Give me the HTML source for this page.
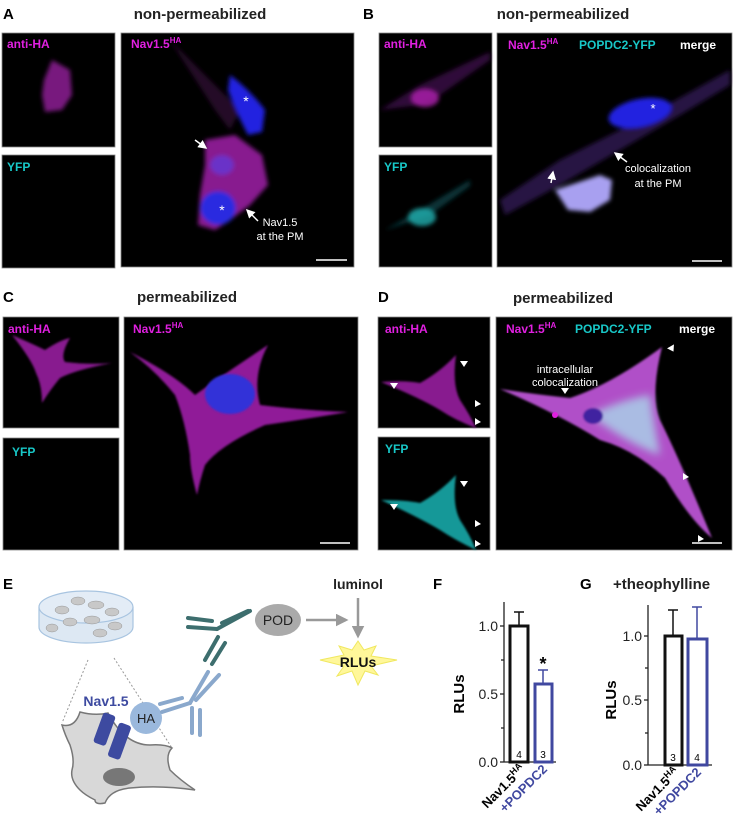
<!DOCTYPE html>
<html><head><meta charset="utf-8"><style>
html,body{margin:0;padding:0;background:#fff}
svg{display:block}
text{font-family:"Liberation Sans",Arial,sans-serif}
</style></head><body>
<svg width="733" height="828" viewBox="0 0 733 828" xmlns="http://www.w3.org/2000/svg">
<defs>
<filter id="b2" x="-30%" y="-30%" width="160%" height="160%"><feGaussianBlur stdDeviation="2"/></filter>
<filter id="b4" x="-30%" y="-30%" width="160%" height="160%"><feGaussianBlur stdDeviation="4"/></filter>
<filter id="b1" x="-30%" y="-30%" width="160%" height="160%"><feGaussianBlur stdDeviation="1"/></filter>
<marker id="wa" markerWidth="6" markerHeight="6" refX="5" refY="3" orient="auto"><path d="M0,0 L6,3 L0,6 z" fill="#fff"/></marker>
<marker id="ga" markerWidth="5" markerHeight="5" refX="4" refY="2.5" orient="auto"><path d="M0,0 L5,2.5 L0,5 z" fill="#999"/></marker>
</defs>

<!-- ================= A ================= -->
<text x="3" y="19" font-size="15" font-weight="bold">A</text>
<text x="200" y="19" font-size="15" font-weight="bold" text-anchor="middle" fill="#222">non-permeabilized</text>
<rect x="2" y="33" width="113" height="114" fill="#000" stroke="#888" stroke-width="0.8"/>
<g filter="url(#b2)">
<path d="M52,60 L70,70 L72,95 L62,110 L45,112 L42,95 L44,80 Z" fill="#a020a8" opacity="0.75"/>
</g>
<text x="7" y="48" font-size="12" font-weight="bold" fill="#e020e0">anti-HA</text>
<rect x="2" y="155" width="113" height="113" fill="#000" stroke="#888" stroke-width="0.8"/>
<text x="7" y="171" font-size="12" font-weight="bold" fill="#18c8c8">YFP</text>
<rect x="121" y="33" width="233" height="234" fill="#000" stroke="#888" stroke-width="0.8"/>
<g filter="url(#b2)">
<path d="M170,40 L215,110 L230,130 L240,110 Z" fill="#3a1040" opacity="0.6"/>
<path d="M205,140 L235,135 L262,155 L268,185 L250,205 L230,220 L215,230 L198,225 L200,195 L205,165 Z" fill="#a020a8" opacity="0.85"/>
<path d="M230,75 Q250,90 265,110 L262,132 L248,135 Q235,110 228,90 Z" fill="#2020e0"/>
<ellipse cx="218" cy="208" rx="18" ry="17" fill="#2a2ae0"/>
<ellipse cx="222" cy="165" rx="12" ry="10" fill="#6a30c8"/>
</g>
<text x="246" y="106" font-size="14" fill="#fff" text-anchor="middle">*</text>
<text x="222" y="215" font-size="14" fill="#fff" text-anchor="middle">*</text>
<line x1="195" y1="140" x2="206" y2="148" stroke="#fff" stroke-width="1.5" marker-end="url(#wa)"/>
<line x1="258" y1="221" x2="247" y2="210" stroke="#fff" stroke-width="1.5" marker-end="url(#wa)"/>
<text x="280" y="226" font-size="11" fill="#fff" text-anchor="middle">Nav1.5</text>
<text x="280" y="240" font-size="11" fill="#fff" text-anchor="middle">at the PM</text>
<line x1="316" y1="260" x2="347" y2="260" stroke="#fff" stroke-width="1.5"/>
<text x="131" y="48" font-size="12" font-weight="bold" fill="#e020e0">Nav1.5<tspan font-size="8" dy="-5">HA</tspan></text>

<!-- ================= B ================= -->
<text x="363" y="19" font-size="15" font-weight="bold">B</text>
<text x="563" y="19" font-size="15" font-weight="bold" text-anchor="middle" fill="#222">non-permeabilized</text>
<rect x="379" y="33" width="113" height="114" fill="#000" stroke="#888" stroke-width="0.8"/>
<g filter="url(#b2)">
<path d="M380,110 L420,85 L490,52 L490,60 L440,95 L420,105 Z" fill="#501060" opacity="0.6"/>
<ellipse cx="425" cy="98" rx="14" ry="9" fill="#b020b0" opacity="0.8"/>
</g>
<text x="384" y="48" font-size="12" font-weight="bold" fill="#e020e0">anti-HA</text>
<rect x="379" y="155" width="113" height="112" fill="#000" stroke="#888" stroke-width="0.8"/>
<g filter="url(#b2)">
<path d="M385,230 L420,210 L470,180 L470,186 L430,215 Z" fill="#0a4a50" opacity="0.7"/>
<ellipse cx="422" cy="217" rx="14" ry="9" fill="#20b0b0" opacity="0.8"/>
</g>
<text x="384" y="171" font-size="12" font-weight="bold" fill="#18c8c8">YFP</text>
<rect x="497" y="33" width="235" height="234" fill="#000" stroke="#888" stroke-width="0.8"/>
<g filter="url(#b2)">
<path d="M500,200 L560,160 L640,120 L730,70 L730,85 L680,115 L620,150 L560,185 L505,215 Z" fill="#2e1650" opacity="0.85"/>
<ellipse cx="640" cy="113" rx="32" ry="14" fill="#2020e0" transform="rotate(-12 640 113)"/>
<path d="M555,190 L600,175 L612,180 L610,200 L590,212 L568,210 Z" fill="#a8a0f0"/>
</g>
<text x="653" y="113" font-size="13" fill="#fff" text-anchor="middle">*</text>
<line x1="551" y1="183" x2="553" y2="172" stroke="#fff" stroke-width="1.5" marker-end="url(#wa)"/>
<line x1="627" y1="162" x2="615" y2="153" stroke="#fff" stroke-width="1.5" marker-end="url(#wa)"/>
<text x="658" y="172" font-size="11" fill="#fff" text-anchor="middle">colocalization</text>
<text x="658" y="187" font-size="11" fill="#fff" text-anchor="middle">at the PM</text>
<line x1="692" y1="261" x2="722" y2="261" stroke="#fff" stroke-width="1.5"/>
<text x="508" y="49" font-size="12" font-weight="bold" fill="#e020e0">Nav1.5<tspan font-size="8" dy="-5">HA</tspan></text>
<text x="579" y="49" font-size="12" font-weight="bold" fill="#18c8c8">POPDC2-YFP</text>
<text x="680" y="49" font-size="12" font-weight="bold" fill="#fff">merge</text>

<!-- ================= C ================= -->
<text x="3" y="302" font-size="15" font-weight="bold">C</text>
<text x="187" y="302" font-size="15" font-weight="bold" text-anchor="middle" fill="#222">permeabilized</text>
<rect x="3" y="317" width="116" height="111" fill="#000" stroke="#888" stroke-width="0.8"/>
<g filter="url(#b1)">
<path d="M12,335 Q35,345 45,350 Q60,340 70,338 Q60,355 65,362 Q90,365 112,363 Q75,370 60,378 Q50,390 42,403 Q42,385 36,373 Q32,360 12,335 Z" fill="#a020a8" opacity="0.85"/>
</g>
<text x="8" y="333" font-size="12" font-weight="bold" fill="#e020e0">anti-HA</text>
<rect x="3" y="438" width="116" height="112" fill="#000" stroke="#888" stroke-width="0.8"/>
<text x="12" y="456" font-size="12" font-weight="bold" fill="#18c8c8">YFP</text>
<rect x="124" y="317" width="234" height="233" fill="#000" stroke="#888" stroke-width="0.8"/>
<g filter="url(#b1)">
<path d="M130,352 Q175,375 195,395 Q230,370 268,345 Q252,375 260,405 Q300,410 348,412 Q300,420 265,425 Q220,445 205,465 Q200,480 197,495 Q190,470 190,455 Q185,420 175,395 Q155,370 130,352 Z" fill="#a020a8" opacity="0.9"/>
</g>
<ellipse cx="230" cy="394" rx="25" ry="20" fill="#3030d8" filter="url(#b1)"/>
<line x1="320" y1="543" x2="350" y2="543" stroke="#fff" stroke-width="1.5"/>
<text x="133" y="333" font-size="12" font-weight="bold" fill="#e020e0">Nav1.5<tspan font-size="8" dy="-5">HA</tspan></text>

<!-- ================= D ================= -->
<text x="378" y="302" font-size="15" font-weight="bold">D</text>
<text x="563" y="303" font-size="15" font-weight="bold" text-anchor="middle" fill="#222">permeabilized</text>
<rect x="378" y="317" width="112" height="111" fill="#000" stroke="#888" stroke-width="0.8"/>
<g filter="url(#b1)">
<path d="M381,382 Q405,380 420,383 Q440,372 456,355 Q452,385 460,400 Q470,415 476,428 Q455,420 440,410 Q420,398 381,382 Z" fill="#a020a8" opacity="0.85"/>
</g>
<text x="385" y="333" font-size="12" font-weight="bold" fill="#e020e0">anti-HA</text>
<rect x="378" y="437" width="112" height="113" fill="#000" stroke="#888" stroke-width="0.8"/>
<g filter="url(#b1)">
<path d="M381,500 Q405,500 420,503 Q440,492 456,475 Q452,505 460,520 Q470,535 476,550 Q455,540 440,530 Q420,518 381,500 Z" fill="#18a8a8" opacity="0.9"/>
</g>
<text x="385" y="453" font-size="12" font-weight="bold" fill="#18c8c8">YFP</text>
<rect x="496" y="317" width="236" height="233" fill="#000" stroke="#888" stroke-width="0.8"/>
<g filter="url(#b1)">
<path d="M500,389 Q540,395 570,398 Q610,385 662,347 Q650,395 660,420 Q680,460 712,538 Q690,520 665,478 Q635,450 600,440 Q560,415 500,389 Z" fill="#b050c8"/>
<path d="M590,415 Q620,400 650,395 Q655,430 660,455 Q630,445 590,415 Z" fill="#a8e0ec" opacity="0.75" filter="url(#b4)"/>
<ellipse cx="593" cy="416" rx="10" ry="8" fill="#4020a0"/>
</g>
<circle cx="555" cy="415" r="3" fill="#e020e0"/>
<g fill="#fff">
<path d="M565,394 l-4,-6 h8 z"/>
<path d="M672,352 l-4,-6 h8 z" transform="rotate(-30 672 349)"/>
<path d="M689,477 l-6,3 v-7 z"/>
<path d="M700,535 l-6,3 v-7 z" transform="translate(4,4)"/>
<path d="M394,392 l-4,-6 h8 z" transform="translate(0,-3)"/>
<path d="M464,374 l-4,-6 h8 z" transform="translate(0,-7)"/>
<path d="M477,394 l-6,3 v-7 z" transform="translate(4,10)"/>
<path d="M481,422 l-6,3 v-7 z"/>
<path d="M394,513 l-4,-6 h8 z" transform="translate(0,-3)"/>
<path d="M464,494 l-4,-6 h8 z" transform="translate(0,-7)"/>
<path d="M477,514 l-6,3 v-7 z" transform="translate(4,10)"/>
<path d="M481,544 l-6,3 v-7 z"/>
</g>
<text x="565" y="373" font-size="11" fill="#fff" text-anchor="middle">intracellular</text>
<text x="565" y="386" font-size="11" fill="#fff" text-anchor="middle">colocalization</text>
<line x1="692" y1="543" x2="722" y2="543" stroke="#fff" stroke-width="1.5"/>
<text x="506" y="333" font-size="12" font-weight="bold" fill="#e020e0">Nav1.5<tspan font-size="8" dy="-5">HA</tspan></text>
<text x="575" y="333" font-size="12" font-weight="bold" fill="#18c8c8">POPDC2-YFP</text>
<text x="679" y="333" font-size="12" font-weight="bold" fill="#fff">merge</text>

<!-- ================= E ================= -->
<text x="3" y="589" font-size="15" font-weight="bold">E</text>
<path d="M39,607 L39,627 A47,16 0 0 0 133,627 L133,607" fill="#dde8f3" stroke="#a8c4e0" stroke-width="1.2"/>
<ellipse cx="86" cy="607" rx="47" ry="16" fill="#e3ecf6" stroke="#a8c4e0" stroke-width="1.2"/>
<g fill="#c8c8c8" stroke="#888" stroke-width="0.4">
<ellipse cx="62" cy="610" rx="7" ry="4"/><ellipse cx="78" cy="601" rx="7" ry="4"/><ellipse cx="96" cy="605" rx="8" ry="4"/>
<ellipse cx="112" cy="612" rx="7" ry="4"/><ellipse cx="70" cy="622" rx="7" ry="4"/><ellipse cx="92" cy="620" rx="8" ry="4"/>
<ellipse cx="115" cy="626" rx="7" ry="4"/><ellipse cx="52" cy="628" rx="6" ry="4"/><ellipse cx="100" cy="633" rx="7" ry="4"/>
</g>
<line x1="88" y1="660" x2="62" y2="723" stroke="#999" stroke-width="1" stroke-dasharray="2,2"/>
<line x1="114" y1="658" x2="172" y2="748" stroke="#999" stroke-width="1" stroke-dasharray="2,2"/>
<path d="M62,725 Q75,728 80,712 Q95,716 108,713 Q125,745 150,745 Q165,744 172,748 Q165,755 170,770 Q180,780 195,790 Q160,785 130,788 Q110,790 105,803 Q95,805 95,800 Q85,795 80,790 Q70,780 72,770 Q75,760 70,745 Q65,735 62,725 Z" fill="#d8d8d8" stroke="#777" stroke-width="1.5"/>
<ellipse cx="119" cy="777" rx="16" ry="9" fill="#777"/>
<rect x="98" y="713" width="13" height="32" rx="3" fill="#3d4aa0" transform="rotate(20 104 729)"/>
<rect x="113" y="723" width="13" height="36" rx="3" fill="#3d4aa0" transform="rotate(20 119 741)"/>
<text x="106" y="706" font-size="14" font-weight="bold" fill="#3d4aa0" text-anchor="middle">Nav1.5</text>
<circle cx="146" cy="718" r="16" fill="#9ab8dc"/>
<text x="146" y="723" font-size="13" fill="#222" text-anchor="middle">HA</text>
<g stroke="#8aa8cc" stroke-width="4" stroke-linecap="round" fill="none">
<line x1="160" y1="704" x2="182" y2="698"/><line x1="162" y1="712" x2="190" y2="703"/>
<line x1="190" y1="703" x2="208" y2="672"/><line x1="196" y1="700" x2="219" y2="675"/>
<line x1="192" y1="708" x2="192" y2="733"/><line x1="200" y1="710" x2="200" y2="735"/>
</g>
<g stroke="#3d6e6e" stroke-width="4" stroke-linecap="round" fill="none">
<line x1="188" y1="618" x2="212" y2="621"/><line x1="188" y1="627" x2="217" y2="629"/>
<line x1="217" y1="629" x2="250" y2="611"/><line x1="222" y1="623" x2="248" y2="611"/>
<line x1="218" y1="637" x2="205" y2="660"/><line x1="225" y1="643" x2="212" y2="664"/>
</g>
<ellipse cx="278" cy="620" rx="23" ry="16" fill="#aaa"/>
<text x="278" y="625" font-size="14" fill="#222" text-anchor="middle">POD</text>
<line x1="306" y1="620" x2="346" y2="620" stroke="#999" stroke-width="2.5" marker-end="url(#ga)"/>
<text x="358" y="589" font-size="14" font-weight="bold" fill="#222" text-anchor="middle">luminol</text>
<line x1="358" y1="598" x2="358" y2="636" stroke="#999" stroke-width="2.5" marker-end="url(#ga)"/>
<path d="M358,641 L364,650 L376,646 L371,656 L397,660 L371,666 L378,675 L365,671 L358,685 L352,671 L337,676 L344,666 L320,660 L344,655 L339,646 L352,650 Z" fill="#fff79a" stroke="#f0e860" stroke-width="1"/>
<text x="358" y="667" font-size="14" font-weight="bold" fill="#111" text-anchor="middle">RLUs</text>

<!-- ================= F ================= -->
<text x="433" y="589" font-size="15" font-weight="bold">F</text>
<g stroke="#222" stroke-width="1.3" fill="none">
<line x1="504" y1="602" x2="504" y2="762"/>
<line x1="504" y1="762" x2="556" y2="762"/>
<line x1="500" y1="626" x2="504" y2="626"/><line x1="500" y1="694" x2="504" y2="694"/><line x1="500" y1="762" x2="504" y2="762"/>
<line x1="501" y1="660" x2="504" y2="660"/><line x1="501" y1="728" x2="504" y2="728"/>
</g>
<rect x="510" y="626" width="18" height="136" fill="#fff" stroke="#111" stroke-width="3"/>
<line x1="519" y1="626" x2="519" y2="612" stroke="#111" stroke-width="1.5"/><line x1="514" y1="612" x2="524" y2="612" stroke="#111" stroke-width="1.5"/>
<rect x="535" y="684" width="17" height="78" fill="#fff" stroke="#4048a0" stroke-width="3"/>
<line x1="543" y1="684" x2="543" y2="670" stroke="#4048a0" stroke-width="1.5"/><line x1="538" y1="670" x2="548" y2="670" stroke="#4048a0" stroke-width="1.5"/>
<text x="543" y="670" font-size="18" font-weight="bold" text-anchor="middle">*</text>
<text x="519" y="758" font-size="10" text-anchor="middle">4</text>
<text x="543" y="758" font-size="10" text-anchor="middle">3</text>
<g font-size="14" fill="#222" text-anchor="end">
<text x="498" y="631">1.0</text><text x="498" y="699">0.5</text><text x="498" y="767">0.0</text>
</g>
<text x="464" y="694" font-size="15" font-weight="bold" text-anchor="middle" transform="rotate(-90 464 694)">RLUs</text>
<text x="526" y="770" font-size="13" font-weight="bold" text-anchor="end" transform="rotate(-45 526 770)">Nav1.5<tspan font-size="9" dy="-5">HA</tspan></text>
<text x="548" y="770" font-size="13" font-weight="bold" fill="#4048a0" text-anchor="end" transform="rotate(-45 548 770)">+POPDC2</text>

<!-- ================= G ================= -->
<text x="580" y="589" font-size="15" font-weight="bold">G</text>
<text x="613" y="589" font-size="15" font-weight="bold" fill="#222">+theophylline</text>
<g stroke="#222" stroke-width="1.3" fill="none">
<line x1="648" y1="605" x2="648" y2="765"/>
<line x1="648" y1="765" x2="712" y2="765"/>
<line x1="644" y1="636" x2="648" y2="636"/><line x1="644" y1="700" x2="648" y2="700"/><line x1="644" y1="765" x2="648" y2="765"/>
<line x1="645" y1="668" x2="648" y2="668"/><line x1="645" y1="733" x2="648" y2="733"/>
</g>
<rect x="665" y="636" width="17" height="129" fill="#fff" stroke="#111" stroke-width="3"/>
<line x1="673" y1="636" x2="673" y2="610" stroke="#111" stroke-width="1.5"/><line x1="668" y1="610" x2="678" y2="610" stroke="#111" stroke-width="1.5"/>
<rect x="688" y="639" width="19" height="126" fill="#fff" stroke="#4048a0" stroke-width="3"/>
<line x1="697" y1="639" x2="697" y2="607" stroke="#4048a0" stroke-width="1.5"/><line x1="692" y1="607" x2="702" y2="607" stroke="#4048a0" stroke-width="1.5"/>
<text x="673" y="761" font-size="10" text-anchor="middle">3</text>
<text x="697" y="761" font-size="10" text-anchor="middle">4</text>
<g font-size="14" fill="#222" text-anchor="end">
<text x="642" y="641">1.0</text><text x="642" y="705">0.5</text><text x="642" y="770">0.0</text>
</g>
<text x="616" y="700" font-size="15" font-weight="bold" text-anchor="middle" transform="rotate(-90 616 700)">RLUs</text>
<text x="680" y="773" font-size="13" font-weight="bold" text-anchor="end" transform="rotate(-45 680 773)">Nav1.5<tspan font-size="9" dy="-5">HA</tspan></text>
<text x="702" y="773" font-size="13" font-weight="bold" fill="#4048a0" text-anchor="end" transform="rotate(-45 702 773)">+POPDC2</text>
</svg>
</body></html>
